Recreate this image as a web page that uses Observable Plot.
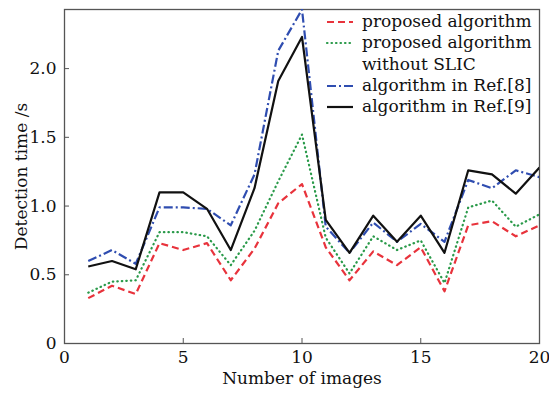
<!DOCTYPE html>
<html>
<head>
<meta charset="utf-8">
<script src="https://cdn.jsdelivr.net/npm/d3@7"></script>
<script src="https://cdn.jsdelivr.net/npm/@observablehq/plot@0.6"></script>
<style>
  html, body { margin: 0; padding: 0; background: #fff; }
  #wrap { position: relative; width: 549px; height: 393px; font-family: "DejaVu Serif", serif; }
  #legend { position: absolute; left: 325px; top: 11px; font-size: 17px; line-height: 21.3px; color: #111; }
  .row { display: flex; align-items: center; white-space: nowrap; }
  .row svg { width: 30px; height: 10px; margin-right: 7px; flex: none; }
  .row .sp { width: 37px; flex: none; }
</style>
</head>
<body>
<div id="wrap"></div>
<script>
const images = [1,2,3,4,5,6,7,8,9,10,11,12,13,14,15,16,17,18,19,20];
const proposed = [0.33,0.42,0.36,0.73,0.68,0.73,0.46,0.69,1.02,1.16,0.70,0.46,0.67,0.57,0.70,0.38,0.86,0.89,0.78,0.86];
const noSlic   = [0.37,0.45,0.46,0.81,0.81,0.78,0.57,0.82,1.18,1.52,0.77,0.51,0.78,0.68,0.75,0.44,0.99,1.04,0.85,0.94];
const ref8     = [0.60,0.68,0.58,0.99,0.99,0.98,0.86,1.23,2.13,2.43,0.85,0.66,0.88,0.74,0.87,0.74,1.19,1.13,1.26,1.21];
const ref9     = [0.56,0.60,0.54,1.10,1.10,0.98,0.68,1.13,1.91,2.23,0.90,0.66,0.93,0.74,0.93,0.66,1.26,1.23,1.09,1.28];
const xTicks = [0,5,10,15,20];
const yTicks = [0,0.5,1.0,1.5,2.0];

const series = [
  {name: "proposed algorithm", values: proposed, color: "#e8333c", dash: "7,4", cap: "butt"},
  {name: "proposed algorithm|without SLIC", values: noSlic, color: "#2a9a4a", dash: "0.5,4", cap: "round"},
  {name: "algorithm in Ref.[8]", values: ref8, color: "#2f4db0", dash: "9,3,2,3", cap: "butt"},
  {name: "algorithm in Ref.[9]", values: ref9, color: "#111111", dash: null, cap: "butt"}
];

const marks = [];
for (const s of series) {
  const rows = images.map((x, i) => ({x, y: s.values[i]}));
  marks.push(Plot.line(rows, {x: "x", y: "y", stroke: s.color, strokeWidth: 2.2,
    strokeDasharray: s.dash || undefined, strokeLinecap: s.cap, clip: true}));
}

const chart = Plot.plot({
  width: 549,
  height: 393,
  marginLeft: 64,
  marginRight: 10,
  marginTop: 9,
  marginBottom: 50,
  style: {fontFamily: "DejaVu Serif, serif", fontSize: "17px", color: "#111", background: "#fff"},
  x: {domain: [0, 20]},
  y: {domain: [0, 2.43]},
  marks: [
    Plot.frame({stroke: "#555", strokeWidth: 1.3}),
    Plot.axisX({ticks: xTicks, tickSize: -5, tickPadding: 12, stroke: "#555", fontSize: 17,
      label: "Number of images", labelAnchor: "center", labelArrow: "none", labelOffset: 40}),
    Plot.axisY({ticks: yTicks, tickSize: -5, tickPadding: 13, stroke: "#555", fontSize: 17,
      tickFormat: d => d === 0 ? "0" : d.toFixed(1),
      label: "Detection time /s", labelAnchor: "center", labelArrow: "none", labelOffset: 50}),
    ...marks
  ]
});
document.getElementById("wrap").appendChild(chart);

const legend = document.createElement("div");
legend.id = "legend";
for (const s of series) {
  const parts = s.name.split("|");
  parts.forEach((p, k) => {
    const row = document.createElement("div");
    row.className = "row";
    if (k === 0) {
      const ns = "http://www.w3.org/2000/svg";
      const svg = document.createElementNS(ns, "svg");
      const ln = document.createElementNS(ns, "line");
      ln.setAttribute("x1", 2); ln.setAttribute("x2", 28);
      ln.setAttribute("y1", 5); ln.setAttribute("y2", 5);
      ln.setAttribute("stroke", s.color);
      ln.setAttribute("stroke-width", 2.2);
      ln.setAttribute("stroke-linecap", s.cap);
      if (s.dash) ln.setAttribute("stroke-dasharray", s.dash);
      svg.appendChild(ln);
      row.appendChild(svg);
    } else {
      const sp = document.createElement("span");
      sp.className = "sp";
      row.appendChild(sp);
    }
    const t = document.createElement("span");
    t.textContent = p;
    row.appendChild(t);
    legend.appendChild(row);
  });
}
document.getElementById("wrap").appendChild(legend);
</script>
</body>
</html>
